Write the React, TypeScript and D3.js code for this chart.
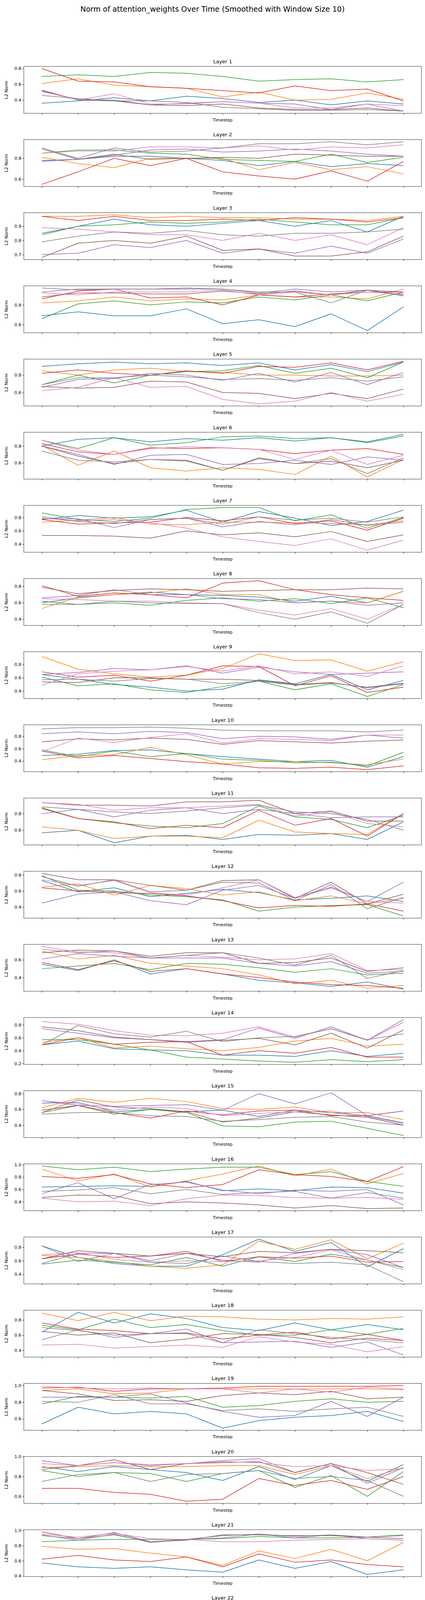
import { useEffect, useRef } from 'react';
import * as d3 from 'd3';

// sampled every 10 timesteps (0..100)
const timesteps = [0, 10, 20, 30, 40, 50, 60, 70, 80, 90, 100];
const xTicks = [0, 10, 20, 30, 40, 50, 60, 70, 80, 90, 100];
const headColors = ['#1f77b4', '#ff7f0e', '#2ca02c', '#d62728', '#9467bd', '#8c564b', '#e377c2', '#7f7f7f'];

// each layer: 8 heads (blue, orange, green, red, purple, brown, pink, gray)
const layer1 = [
  [0.36, 0.39, 0.43, 0.39, 0.45, 0.42, 0.37, 0.40, 0.34, 0.39, 0.35],
  [0.61, 0.67, 0.59, 0.57, 0.55, 0.44, 0.50, 0.40, 0.41, 0.49, 0.41],
  [0.70, 0.72, 0.70, 0.75, 0.74, 0.70, 0.64, 0.66, 0.67, 0.63, 0.66],
  [0.80, 0.64, 0.63, 0.57, 0.55, 0.52, 0.49, 0.58, 0.52, 0.54, 0.39],
  [0.51, 0.41, 0.40, 0.34, 0.36, 0.38, 0.36, 0.35, 0.28, 0.35, 0.26],
  [0.52, 0.40, 0.39, 0.34, 0.33, 0.35, 0.30, 0.28, 0.28, 0.30, 0.26],
  [0.53, 0.40, 0.48, 0.35, 0.35, 0.38, 0.36, 0.30, 0.30, 0.35, 0.33],
  [0.46, 0.42, 0.39, 0.39, 0.37, 0.31, 0.29, 0.27, 0.27, 0.28, 0.26],
];
const layer2 = [
  [0.78, 0.79, 0.82, 0.82, 0.80, 0.78, 0.73, 0.77, 0.72, 0.75, 0.73],
  [0.81, 0.75, 0.71, 0.80, 0.80, 0.80, 0.69, 0.76, 0.69, 0.72, 0.65],
  [0.85, 0.88, 0.88, 0.85, 0.84, 0.79, 0.78, 0.77, 0.84, 0.76, 0.81],
  [0.55, 0.67, 0.80, 0.73, 0.80, 0.67, 0.63, 0.60, 0.68, 0.58, 0.77],
  [0.77, 0.79, 0.83, 0.88, 0.89, 0.86, 0.87, 0.89, 0.87, 0.84, 0.82],
  [0.89, 0.79, 0.84, 0.79, 0.80, 0.81, 0.80, 0.84, 0.83, 0.82, 0.82],
  [0.85, 0.87, 0.87, 0.91, 0.91, 0.90, 0.92, 0.88, 0.91, 0.90, 0.93],
  [0.90, 0.80, 0.90, 0.86, 0.87, 0.90, 0.94, 0.94, 0.96, 0.93, 0.96],
];
const layer3 = [
  [0.85, 0.90, 0.95, 0.91, 0.90, 0.92, 0.94, 0.90, 0.94, 0.86, 0.97],
  [0.97, 0.97, 0.98, 0.96, 0.97, 0.96, 0.96, 0.95, 0.95, 0.94, 0.97],
  [0.84, 0.90, 0.91, 0.93, 0.92, 0.93, 0.95, 0.93, 0.91, 0.91, 0.96],
  [0.97, 0.94, 0.97, 0.94, 0.94, 0.95, 0.94, 0.96, 0.95, 0.93, 0.96],
  [0.70, 0.71, 0.77, 0.75, 0.80, 0.71, 0.74, 0.71, 0.76, 0.71, 0.81],
  [0.68, 0.78, 0.80, 0.78, 0.83, 0.73, 0.74, 0.69, 0.69, 0.72, 0.83],
  [0.89, 0.88, 0.86, 0.84, 0.84, 0.80, 0.85, 0.80, 0.84, 0.77, 0.89],
  [0.79, 0.83, 0.86, 0.85, 0.87, 0.84, 0.83, 0.85, 0.85, 0.86, 0.88],
];
const layer4 = [
  [0.69, 0.73, 0.69, 0.69, 0.76, 0.61, 0.65, 0.58, 0.71, 0.54, 0.78],
  [0.82, 0.84, 0.88, 0.84, 0.86, 0.85, 0.90, 0.88, 0.88, 0.86, 0.96],
  [0.66, 0.81, 0.84, 0.80, 0.83, 0.82, 0.88, 0.85, 0.90, 0.84, 0.93],
  [0.86, 0.94, 0.96, 0.87, 0.88, 0.80, 0.90, 0.88, 0.91, 0.93, 0.93],
  [0.97, 0.95, 0.96, 0.96, 0.96, 0.96, 0.92, 0.96, 0.93, 0.95, 0.93],
  [0.88, 0.92, 0.92, 0.91, 0.91, 0.94, 0.91, 0.94, 0.90, 0.95, 0.90],
  [0.92, 0.90, 0.93, 0.93, 0.93, 0.95, 0.90, 0.93, 0.90, 0.93, 0.91],
  [0.93, 0.96, 0.96, 0.96, 0.97, 0.96, 0.93, 0.93, 0.82, 0.95, 0.89],
];
const layer5 = [
  [0.90, 0.93, 0.95, 0.93, 0.94, 0.91, 0.94, 0.86, 0.92, 0.84, 0.95],
  [0.85, 0.80, 0.86, 0.88, 0.84, 0.83, 0.80, 0.80, 0.79, 0.79, 0.80],
  [0.69, 0.80, 0.71, 0.80, 0.84, 0.85, 0.91, 0.82, 0.88, 0.77, 0.95],
  [0.82, 0.86, 0.82, 0.80, 0.85, 0.82, 0.90, 0.89, 0.94, 0.86, 0.96],
  [0.66, 0.75, 0.76, 0.82, 0.80, 0.74, 0.82, 0.72, 0.83, 0.69, 0.83],
  [0.67, 0.65, 0.66, 0.73, 0.72, 0.60, 0.59, 0.53, 0.59, 0.53, 0.64],
  [0.62, 0.66, 0.77, 0.66, 0.67, 0.52, 0.47, 0.50, 0.60, 0.50, 0.58],
  [0.69, 0.77, 0.77, 0.80, 0.78, 0.75, 0.76, 0.74, 0.77, 0.73, 0.78],
];
const layer6 = [
  [0.80, 0.88, 0.90, 0.85, 0.89, 0.87, 0.90, 0.86, 0.90, 0.85, 0.94],
  [0.81, 0.57, 0.74, 0.54, 0.50, 0.54, 0.52, 0.46, 0.68, 0.43, 0.64],
  [0.87, 0.77, 0.90, 0.81, 0.84, 0.91, 0.92, 0.89, 0.90, 0.84, 0.92],
  [0.83, 0.73, 0.70, 0.78, 0.77, 0.78, 0.76, 0.71, 0.75, 0.77, 0.70],
  [0.80, 0.70, 0.58, 0.69, 0.70, 0.58, 0.59, 0.63, 0.58, 0.67, 0.63],
  [0.80, 0.68, 0.59, 0.64, 0.63, 0.51, 0.65, 0.59, 0.62, 0.54, 0.63],
  [0.87, 0.75, 0.70, 0.77, 0.79, 0.78, 0.76, 0.64, 0.75, 0.58, 0.69],
  [0.74, 0.63, 0.61, 0.64, 0.62, 0.51, 0.66, 0.59, 0.65, 0.47, 0.66],
];
const layer7 = [
  [0.77, 0.83, 0.79, 0.81, 0.91, 0.73, 0.89, 0.79, 0.68, 0.74, 0.91],
  [0.73, 0.76, 0.80, 0.70, 0.69, 0.73, 0.73, 0.72, 0.71, 0.69, 0.75],
  [0.87, 0.77, 0.74, 0.79, 0.92, 0.95, 0.95, 0.75, 0.84, 0.64, 0.80],
  [0.77, 0.70, 0.72, 0.73, 0.80, 0.75, 0.81, 0.71, 0.75, 0.61, 0.79],
  [0.78, 0.78, 0.65, 0.77, 0.79, 0.66, 0.74, 0.69, 0.77, 0.68, 0.73],
  [0.53, 0.53, 0.52, 0.49, 0.60, 0.54, 0.57, 0.51, 0.59, 0.44, 0.54],
  [0.79, 0.75, 0.77, 0.72, 0.64, 0.51, 0.44, 0.38, 0.48, 0.31, 0.46],
  [0.81, 0.74, 0.71, 0.77, 0.79, 0.70, 0.81, 0.76, 0.79, 0.73, 0.81],
];
const layer8 = [
  [0.60, 0.66, 0.70, 0.73, 0.70, 0.69, 0.67, 0.62, 0.68, 0.60, 0.74],
  [0.53, 0.67, 0.70, 0.72, 0.77, 0.70, 0.70, 0.60, 0.62, 0.60, 0.74],
  [0.62, 0.58, 0.60, 0.57, 0.63, 0.66, 0.62, 0.65, 0.59, 0.66, 0.54],
  [0.81, 0.68, 0.72, 0.70, 0.66, 0.84, 0.87, 0.76, 0.70, 0.66, 0.63],
  [0.66, 0.69, 0.76, 0.70, 0.70, 0.65, 0.64, 0.60, 0.62, 0.57, 0.60],
  [0.79, 0.71, 0.75, 0.77, 0.76, 0.74, 0.75, 0.76, 0.76, 0.78, 0.77],
  [0.65, 0.64, 0.62, 0.62, 0.60, 0.59, 0.51, 0.45, 0.53, 0.40, 0.58],
  [0.58, 0.58, 0.62, 0.60, 0.59, 0.59, 0.48, 0.40, 0.49, 0.35, 0.58],
];
const layer9 = [
  [0.65, 0.58, 0.50, 0.46, 0.40, 0.43, 0.57, 0.51, 0.65, 0.42, 0.56],
  [0.92, 0.73, 0.66, 0.61, 0.64, 0.74, 0.96, 0.86, 0.87, 0.70, 0.84],
  [0.61, 0.48, 0.51, 0.42, 0.38, 0.47, 0.55, 0.42, 0.51, 0.32, 0.50],
  [0.69, 0.61, 0.64, 0.55, 0.64, 0.78, 0.77, 0.48, 0.63, 0.38, 0.46],
  [0.65, 0.68, 0.74, 0.72, 0.78, 0.67, 0.76, 0.69, 0.65, 0.67, 0.69],
  [0.54, 0.53, 0.60, 0.60, 0.58, 0.58, 0.56, 0.50, 0.53, 0.45, 0.51],
  [0.49, 0.66, 0.70, 0.72, 0.77, 0.70, 0.78, 0.66, 0.69, 0.62, 0.78],
  [0.57, 0.58, 0.55, 0.59, 0.58, 0.51, 0.55, 0.49, 0.52, 0.46, 0.52],
];
const layer10 = [
  [0.49, 0.51, 0.57, 0.58, 0.52, 0.47, 0.43, 0.39, 0.41, 0.30, 0.47],
  [0.42, 0.49, 0.50, 0.62, 0.50, 0.35, 0.39, 0.39, 0.37, 0.34, 0.43],
  [0.58, 0.47, 0.56, 0.47, 0.52, 0.43, 0.41, 0.37, 0.38, 0.32, 0.54],
  [0.56, 0.45, 0.49, 0.44, 0.39, 0.35, 0.29, 0.28, 0.30, 0.26, 0.32],
  [0.84, 0.87, 0.84, 0.88, 0.86, 0.76, 0.80, 0.79, 0.75, 0.82, 0.77],
  [0.71, 0.76, 0.74, 0.77, 0.75, 0.67, 0.73, 0.71, 0.69, 0.72, 0.74],
  [0.55, 0.77, 0.70, 0.78, 0.84, 0.69, 0.76, 0.75, 0.73, 0.82, 0.82],
  [0.92, 0.94, 0.94, 0.95, 0.93, 0.90, 0.89, 0.89, 0.89, 0.87, 0.90],
];
const layer11 = [
  [0.57, 0.60, 0.45, 0.53, 0.54, 0.49, 0.55, 0.54, 0.56, 0.49, 0.70],
  [0.64, 0.60, 0.50, 0.53, 0.53, 0.51, 0.72, 0.58, 0.56, 0.55, 0.80],
  [0.87, 0.74, 0.69, 0.65, 0.63, 0.68, 0.89, 0.76, 0.73, 0.63, 0.78],
  [0.86, 0.74, 0.70, 0.62, 0.66, 0.63, 0.84, 0.66, 0.74, 0.53, 0.80],
  [0.80, 0.85, 0.76, 0.84, 0.87, 0.80, 0.85, 0.80, 0.75, 0.76, 0.76],
  [0.93, 0.90, 0.90, 0.89, 0.94, 0.94, 0.96, 0.80, 0.83, 0.71, 0.71],
  [0.93, 0.91, 0.84, 0.87, 0.87, 0.89, 0.91, 0.77, 0.82, 0.68, 0.64],
  [0.88, 0.85, 0.82, 0.80, 0.83, 0.87, 0.90, 0.82, 0.80, 0.73, 0.60],
];
const layer12 = [
  [0.73, 0.59, 0.64, 0.53, 0.57, 0.62, 0.58, 0.49, 0.51, 0.54, 0.47],
  [0.65, 0.69, 0.55, 0.67, 0.63, 0.55, 0.59, 0.48, 0.54, 0.44, 0.51],
  [0.79, 0.61, 0.60, 0.55, 0.53, 0.49, 0.35, 0.40, 0.42, 0.43, 0.29],
  [0.64, 0.60, 0.58, 0.57, 0.54, 0.48, 0.39, 0.42, 0.41, 0.44, 0.35],
  [0.45, 0.56, 0.59, 0.48, 0.43, 0.61, 0.67, 0.51, 0.64, 0.47, 0.71],
  [0.82, 0.74, 0.74, 0.67, 0.61, 0.73, 0.74, 0.51, 0.71, 0.44, 0.56],
  [0.74, 0.67, 0.73, 0.58, 0.55, 0.64, 0.74, 0.52, 0.65, 0.47, 0.45],
  [0.78, 0.66, 0.74, 0.59, 0.61, 0.71, 0.70, 0.48, 0.68, 0.38, 0.52],
];
const layer13 = [
  [0.55, 0.48, 0.60, 0.44, 0.50, 0.44, 0.37, 0.34, 0.30, 0.35, 0.27],
  [0.70, 0.61, 0.65, 0.56, 0.53, 0.50, 0.43, 0.33, 0.37, 0.28, 0.31],
  [0.50, 0.53, 0.56, 0.49, 0.56, 0.55, 0.51, 0.46, 0.50, 0.43, 0.45],
  [0.57, 0.49, 0.59, 0.47, 0.50, 0.44, 0.40, 0.35, 0.32, 0.31, 0.28],
  [0.61, 0.67, 0.64, 0.62, 0.62, 0.62, 0.56, 0.53, 0.58, 0.45, 0.47],
  [0.68, 0.71, 0.70, 0.64, 0.68, 0.68, 0.56, 0.57, 0.62, 0.47, 0.51],
  [0.75, 0.69, 0.68, 0.62, 0.65, 0.63, 0.60, 0.61, 0.67, 0.48, 0.49],
  [0.72, 0.68, 0.70, 0.62, 0.65, 0.68, 0.62, 0.54, 0.65, 0.39, 0.48],
];
const layer14 = [
  [0.49, 0.55, 0.43, 0.41, 0.40, 0.33, 0.33, 0.31, 0.40, 0.31, 0.36],
  [0.53, 0.60, 0.44, 0.47, 0.43, 0.40, 0.45, 0.55, 0.59, 0.47, 0.50],
  [0.57, 0.57, 0.50, 0.41, 0.30, 0.27, 0.24, 0.22, 0.26, 0.23, 0.26],
  [0.49, 0.60, 0.50, 0.53, 0.54, 0.33, 0.40, 0.36, 0.45, 0.30, 0.30],
  [0.74, 0.67, 0.60, 0.57, 0.54, 0.57, 0.75, 0.59, 0.77, 0.56, 0.88],
  [0.77, 0.71, 0.61, 0.57, 0.53, 0.56, 0.59, 0.49, 0.67, 0.44, 0.72],
  [0.85, 0.81, 0.71, 0.64, 0.63, 0.67, 0.77, 0.61, 0.74, 0.56, 0.84],
  [0.49, 0.79, 0.66, 0.61, 0.70, 0.54, 0.60, 0.62, 0.74, 0.57, 0.66],
];
const layer15 = [
  [0.68, 0.69, 0.57, 0.60, 0.57, 0.59, 0.51, 0.59, 0.56, 0.52, 0.43],
  [0.62, 0.74, 0.69, 0.74, 0.70, 0.61, 0.60, 0.63, 0.56, 0.56, 0.47],
  [0.56, 0.65, 0.54, 0.60, 0.56, 0.39, 0.38, 0.44, 0.45, 0.36, 0.27],
  [0.59, 0.65, 0.56, 0.49, 0.58, 0.53, 0.58, 0.59, 0.52, 0.52, 0.58],
  [0.71, 0.65, 0.64, 0.65, 0.66, 0.59, 0.80, 0.67, 0.81, 0.52, 0.58],
  [0.56, 0.72, 0.63, 0.61, 0.57, 0.44, 0.49, 0.57, 0.53, 0.50, 0.40],
  [0.71, 0.67, 0.59, 0.63, 0.61, 0.52, 0.55, 0.57, 0.58, 0.51, 0.42],
  [0.54, 0.56, 0.56, 0.52, 0.51, 0.45, 0.47, 0.50, 0.51, 0.44, 0.40],
];
const layer16 = [
  [0.64, 0.65, 0.66, 0.65, 0.73, 0.58, 0.61, 0.58, 0.64, 0.63, 0.54],
  [0.93, 0.74, 0.85, 0.64, 0.74, 0.85, 0.98, 0.82, 0.93, 0.69, 0.86],
  [0.98, 0.92, 0.96, 0.89, 0.93, 0.96, 0.96, 0.84, 0.89, 0.73, 0.65],
  [0.81, 0.78, 0.84, 0.69, 0.63, 0.68, 0.92, 0.84, 0.81, 0.73, 0.97],
  [0.53, 0.71, 0.45, 0.68, 0.72, 0.59, 0.53, 0.59, 0.57, 0.60, 0.35],
  [0.47, 0.51, 0.50, 0.37, 0.40, 0.38, 0.35, 0.30, 0.34, 0.29, 0.30],
  [0.46, 0.40, 0.41, 0.34, 0.45, 0.51, 0.50, 0.47, 0.46, 0.47, 0.44],
  [0.57, 0.59, 0.63, 0.53, 0.60, 0.52, 0.55, 0.57, 0.46, 0.55, 0.46],
];
const layer17 = [
  [0.82, 0.65, 0.56, 0.52, 0.52, 0.69, 0.92, 0.74, 0.87, 0.51, 0.78],
  [0.68, 0.65, 0.59, 0.52, 0.49, 0.54, 0.89, 0.77, 0.91, 0.63, 0.86],
  [0.55, 0.61, 0.58, 0.54, 0.65, 0.52, 0.66, 0.59, 0.70, 0.61, 0.50],
  [0.63, 0.70, 0.65, 0.67, 0.74, 0.59, 0.66, 0.64, 0.67, 0.58, 0.59],
  [0.56, 0.71, 0.71, 0.60, 0.71, 0.61, 0.58, 0.71, 0.77, 0.69, 0.50],
  [0.63, 0.75, 0.71, 0.67, 0.71, 0.66, 0.74, 0.72, 0.77, 0.75, 0.72],
  [0.69, 0.72, 0.62, 0.58, 0.60, 0.59, 0.60, 0.65, 0.76, 0.61, 0.47],
  [0.82, 0.59, 0.71, 0.58, 0.56, 0.67, 0.59, 0.56, 0.58, 0.54, 0.29],
];
const layer18 = [
  [0.64, 0.90, 0.76, 0.88, 0.82, 0.70, 0.66, 0.76, 0.67, 0.74, 0.67],
  [0.89, 0.79, 0.90, 0.79, 0.85, 0.84, 0.81, 0.80, 0.82, 0.81, 0.84],
  [0.73, 0.67, 0.81, 0.70, 0.74, 0.66, 0.60, 0.60, 0.67, 0.61, 0.69],
  [0.76, 0.68, 0.66, 0.62, 0.63, 0.55, 0.60, 0.64, 0.55, 0.61, 0.53],
  [0.54, 0.67, 0.57, 0.62, 0.68, 0.50, 0.51, 0.52, 0.44, 0.51, 0.34],
  [0.65, 0.60, 0.63, 0.50, 0.55, 0.62, 0.61, 0.57, 0.50, 0.56, 0.53],
  [0.47, 0.48, 0.43, 0.45, 0.47, 0.44, 0.58, 0.51, 0.48, 0.38, 0.45],
  [0.70, 0.66, 0.60, 0.62, 0.62, 0.50, 0.67, 0.62, 0.57, 0.54, 0.50],
];
const layer19 = [
  [0.54, 0.74, 0.66, 0.69, 0.66, 0.49, 0.58, 0.62, 0.64, 0.69, 0.57],
  [0.94, 0.96, 0.90, 0.91, 0.96, 0.96, 0.96, 0.96, 0.96, 0.96, 0.95],
  [0.78, 0.87, 0.86, 0.85, 0.87, 0.74, 0.76, 0.81, 0.84, 0.80, 0.81],
  [0.97, 0.98, 0.93, 0.96, 0.96, 0.97, 0.99, 0.99, 0.99, 0.99, 1.00],
  [0.86, 0.86, 0.86, 0.90, 0.79, 0.69, 0.62, 0.64, 0.81, 0.63, 0.86],
  [0.94, 0.90, 0.82, 0.83, 0.81, 0.88, 0.91, 0.89, 0.93, 0.84, 0.86],
  [0.99, 0.97, 0.96, 0.97, 0.96, 0.96, 0.91, 0.96, 0.92, 0.98, 0.96],
  [0.81, 0.80, 0.89, 0.78, 0.78, 0.70, 0.72, 0.69, 0.72, 0.74, 0.63],
];
const layer20 = [
  [0.90, 0.85, 0.90, 0.87, 0.84, 0.76, 0.90, 0.77, 0.91, 0.75, 0.92],
  [0.89, 0.90, 0.91, 0.90, 0.90, 0.91, 0.91, 0.82, 0.91, 0.78, 0.89],
  [0.86, 0.80, 0.84, 0.83, 0.75, 0.83, 0.86, 0.69, 0.81, 0.60, 0.85],
  [0.68, 0.68, 0.64, 0.62, 0.55, 0.57, 0.78, 0.71, 0.76, 0.67, 0.80],
  [0.96, 0.91, 0.94, 0.91, 0.93, 0.96, 0.98, 0.84, 0.93, 0.73, 0.89],
  [0.87, 0.91, 0.97, 0.87, 0.93, 0.94, 0.95, 0.84, 0.93, 0.84, 0.72],
  [0.93, 0.91, 0.94, 0.92, 0.93, 0.95, 0.94, 0.90, 0.91, 0.86, 0.88],
  [0.75, 0.82, 0.84, 0.75, 0.82, 0.83, 0.86, 0.78, 0.80, 0.76, 0.60],
];
const layer21 = [
  [0.57, 0.52, 0.50, 0.52, 0.48, 0.45, 0.61, 0.50, 0.59, 0.42, 0.48],
  [0.79, 0.75, 0.76, 0.70, 0.65, 0.54, 0.73, 0.63, 0.75, 0.60, 0.84],
  [0.85, 0.87, 0.88, 0.88, 0.88, 0.89, 0.92, 0.90, 0.90, 0.91, 0.94],
  [0.62, 0.67, 0.61, 0.59, 0.65, 0.52, 0.69, 0.58, 0.61, 0.55, 0.52],
  [0.94, 0.87, 0.95, 0.84, 0.88, 0.90, 0.95, 0.90, 0.94, 0.89, 0.87],
  [0.98, 0.89, 0.97, 0.85, 0.87, 0.94, 0.94, 0.93, 0.93, 0.91, 0.89],
  [0.95, 0.91, 0.96, 0.89, 0.88, 0.85, 0.85, 0.87, 0.88, 0.89, 0.87],
  [0.93, 0.89, 0.94, 0.85, 0.88, 0.93, 0.95, 0.92, 0.94, 0.91, 0.93],
];
const layer22 = [
  [0.73, 0.69, 0.76, 0.67, 0.77, 0.65, 0.54, 0.63, 0.58, 0.60, 0.62],
  [0.65, 0.75, 0.67, 0.70, 0.65, 0.80, 0.69, 0.60, 0.74, 0.50, 0.72],
  [0.64, 0.59, 0.59, 0.52, 0.55, 0.65, 0.63, 0.62, 0.70, 0.46, 0.60],
  [0.57, 0.54, 0.57, 0.50, 0.60, 0.65, 0.69, 0.67, 0.70, 0.49, 0.58],
  [0.84, 0.84, 0.80, 0.83, 0.83, 0.83, 0.77, 0.80, 0.69, 0.77, 0.70],
  [0.86, 0.78, 0.80, 0.76, 0.78, 0.76, 0.65, 0.66, 0.60, 0.70, 0.65],
  [0.84, 0.79, 0.81, 0.73, 0.76, 0.80, 0.69, 0.74, 0.70, 0.80, 0.75],
  [0.80, 0.72, 0.71, 0.73, 0.72, 0.75, 0.78, 0.78, 0.70, 0.72, 0.70],
];
const layer23 = [
  [0.87, 0.90, 0.90, 0.88, 0.86, 0.84, 0.86, 0.92, 0.95, 0.87, 0.94],
  [0.83, 0.79, 0.89, 0.75, 0.72, 0.78, 0.78, 0.82, 0.91, 0.79, 0.90],
  [0.77, 0.87, 0.83, 0.64, 0.61, 0.70, 0.76, 0.78, 0.87, 0.68, 0.84],
  [0.81, 0.80, 0.86, 0.83, 0.86, 0.85, 0.84, 0.78, 0.81, 0.72, 0.80],
  [0.59, 0.75, 0.76, 0.71, 0.73, 0.70, 0.81, 0.75, 0.80, 0.75, 0.66],
  [0.64, 0.80, 0.86, 0.76, 0.75, 0.62, 0.83, 0.82, 0.87, 0.82, 0.67],
  [0.86, 0.85, 0.89, 0.81, 0.76, 0.67, 0.76, 0.76, 0.88, 0.77, 0.82],
  [0.83, 0.86, 0.91, 0.81, 0.82, 0.89, 0.89, 0.79, 0.77, 0.75, 0.61],
];
const layer24 = [
  [0.66, 0.60, 0.80, 0.73, 0.74, 0.76, 0.82, 0.85, 0.85, 0.82, 0.87],
  [0.92, 0.89, 0.94, 0.89, 0.91, 0.91, 0.95, 0.94, 0.96, 0.93, 0.97],
  [0.77, 0.84, 0.87, 0.87, 0.89, 0.89, 0.89, 0.89, 0.90, 0.89, 0.89],
  [0.87, 0.89, 0.91, 0.88, 0.87, 0.89, 0.85, 0.90, 0.89, 0.91, 0.89],
  [0.93, 0.88, 0.91, 0.88, 0.89, 0.87, 0.86, 0.83, 0.91, 0.83, 0.91],
  [0.91, 0.91, 0.91, 0.91, 0.88, 0.88, 0.91, 0.94, 0.95, 0.92, 0.94],
  [0.84, 0.87, 0.89, 0.81, 0.87, 0.77, 0.81, 0.89, 0.91, 0.88, 0.91],
  [0.91, 0.91, 0.92, 0.89, 0.89, 0.87, 0.94, 0.91, 0.95, 0.92, 0.94],
];
const layer25 = [
  [0.97, 0.96, 0.94, 0.93, 0.96, 0.97, 0.98, 0.98, 0.98, 0.97, 0.96],
  [0.89, 0.92, 0.87, 0.88, 0.90, 0.86, 0.90, 0.92, 0.92, 0.92, 0.91],
  [0.87, 0.91, 0.91, 0.90, 0.92, 0.88, 0.91, 0.93, 0.94, 0.90, 0.91],
  [0.82, 0.81, 0.84, 0.77, 0.91, 0.83, 0.93, 0.93, 0.88, 0.86, 0.86],
  [0.91, 0.91, 0.95, 0.89, 0.93, 0.93, 0.99, 0.97, 0.97, 0.97, 1.00],
  [0.93, 0.98, 0.98, 0.96, 0.98, 0.97, 0.99, 0.99, 0.99, 0.98, 0.99],
  [0.93, 0.95, 0.92, 0.94, 0.96, 0.90, 0.96, 0.97, 0.97, 0.97, 0.98],
  [0.91, 0.95, 0.96, 0.92, 0.98, 0.92, 0.99, 0.93, 0.93, 0.97, 0.93],
];
const layer26 = [
  [0.95, 0.87, 0.96, 0.81, 0.68, 0.85, 0.96, 0.89, 0.95, 0.84, 0.94],
  [0.71, 0.78, 0.92, 0.81, 0.88, 0.90, 0.87, 0.84, 0.82, 0.91, 0.64],
  [0.94, 0.88, 0.92, 0.81, 0.88, 0.93, 0.93, 0.93, 0.94, 0.90, 0.94],
  [0.97, 0.96, 0.95, 0.93, 0.93, 0.90, 0.94, 0.90, 0.93, 0.88, 0.83],
  [0.95, 0.95, 0.96, 0.93, 0.93, 0.95, 0.98, 0.97, 0.97, 0.95, 0.97],
  [0.85, 0.83, 0.89, 0.78, 0.81, 0.83, 0.95, 0.87, 0.86, 0.82, 0.95],
  [0.90, 0.92, 0.92, 0.89, 0.89, 0.90, 0.97, 0.95, 0.96, 0.91, 0.97],
  [0.79, 0.93, 0.84, 0.90, 0.92, 0.82, 0.95, 0.95, 0.97, 0.93, 0.97],
];
const layer27 = [
  [0.63, 0.58, 0.60, 0.62, 0.64, 0.62, 0.73, 0.66, 0.60, 0.57, 0.51],
  [0.68, 0.68, 0.65, 0.65, 0.65, 0.65, 0.68, 0.66, 0.71, 0.65, 0.68],
  [0.80, 0.82, 0.69, 0.80, 0.80, 0.80, 0.90, 0.82, 0.82, 0.73, 0.80],
  [0.65, 0.57, 0.52, 0.52, 0.50, 0.51, 0.61, 0.63, 0.52, 0.57, 0.49],
  [0.92, 0.89, 0.93, 0.86, 0.89, 0.88, 0.91, 0.88, 0.90, 0.89, 0.88],
  [0.84, 0.89, 0.90, 0.85, 0.90, 0.91, 0.92, 0.88, 0.89, 0.84, 0.85],
  [0.80, 0.85, 0.91, 0.78, 0.88, 0.82, 0.87, 0.88, 0.88, 0.88, 0.62],
  [0.84, 0.95, 0.93, 0.88, 0.93, 0.92, 0.97, 0.95, 0.91, 0.93, 0.93],
];
const layer28 = [
  [0.92, 0.94, 0.93, 0.95, 0.95, 0.94, 0.98, 0.96, 0.97, 0.96, 0.98],
  [0.81, 0.87, 0.85, 0.86, 0.90, 0.83, 0.85, 0.84, 0.84, 0.86, 0.77],
  [0.86, 0.90, 0.89, 0.91, 0.92, 0.88, 0.88, 0.88, 0.88, 0.90, 0.92],
  [0.92, 0.95, 0.96, 0.95, 0.96, 0.95, 0.96, 0.97, 0.97, 0.96, 0.95],
  [0.83, 0.88, 0.86, 0.83, 0.85, 0.88, 0.98, 0.89, 0.83, 0.77, 0.94],
  [0.73, 0.75, 0.65, 0.71, 0.70, 0.72, 0.94, 0.80, 0.76, 0.67, 0.88],
  [0.78, 0.84, 0.77, 0.81, 0.79, 0.81, 0.97, 0.88, 0.83, 0.74, 0.91],
  [0.63, 0.66, 0.56, 0.61, 0.62, 0.71, 0.94, 0.70, 0.76, 0.51, 0.85],
];
const layer29 = [
  [0.51, 0.50, 0.44, 0.45, 0.56, 0.52, 0.68, 0.69, 0.56, 0.62, 0.61],
  [0.96, 0.88, 0.94, 0.91, 0.90, 0.96, 0.97, 0.96, 0.97, 0.96, 0.98],
  [0.97, 0.97, 0.96, 0.96, 0.96, 0.96, 0.96, 0.96, 0.97, 0.95, 0.99],
  [0.74, 0.68, 0.76, 0.70, 0.75, 0.76, 0.67, 0.76, 0.69, 0.62, 0.70],
  [0.94, 0.95, 0.96, 0.96, 0.95, 0.96, 0.94, 0.94, 0.88, 0.93, 0.90],
  [0.87, 0.89, 0.93, 0.89, 0.90, 0.86, 0.88, 0.85, 0.88, 0.83, 0.82],
  [0.79, 0.89, 0.86, 0.92, 0.91, 0.85, 0.89, 0.82, 0.86, 0.83, 0.91],
  [0.85, 0.93, 0.94, 0.93, 0.90, 0.91, 0.94, 0.85, 0.85, 0.83, 0.89],
];
const layer30 = [
  [0.95, 0.94, 0.93, 0.93, 0.95, 0.90, 0.93, 0.88, 0.95, 0.89, 0.95],
  [0.94, 0.935, 0.96, 0.94, 0.95, 0.95, 0.94, 0.93, 0.94, 0.92, 0.95],
  [0.83, 0.86, 0.90, 0.83, 0.88, 0.83, 0.93, 0.85, 0.93, 0.85, 0.93],
  [0.88, 0.88, 0.92, 0.87, 0.92, 0.85, 0.80, 0.86, 0.92, 0.79, 0.89],
  [0.95, 0.95, 0.96, 0.96, 0.96, 0.96, 0.95, 0.96, 0.96, 0.93, 0.93],
  [0.95, 0.94, 0.97, 0.96, 0.96, 0.97, 0.98, 0.97, 0.97, 0.96, 0.98],
  [0.96, 0.94, 0.96, 0.95, 0.96, 0.96, 0.98, 0.96, 0.96, 0.92, 0.97],
  [0.95, 0.94, 0.98, 0.96, 0.97, 0.96, 0.97, 0.96, 0.95, 0.93, 0.97],
];
const layer31 = [
  [0.47, 0.49, 0.53, 0.47, 0.49, 0.46, 0.48, 0.42, 0.43, 0.36, 0.39],
  [0.49, 0.44, 0.49, 0.39, 0.46, 0.49, 0.60, 0.52, 0.57, 0.42, 0.47],
  [0.47, 0.49, 0.47, 0.43, 0.54, 0.49, 0.51, 0.57, 0.54, 0.53, 0.41],
  [0.75, 0.74, 0.76, 0.72, 0.73, 0.76, 0.91, 0.79, 0.86, 0.77, 0.91],
  [0.91, 0.89, 0.90, 0.92, 0.91, 0.92, 0.92, 0.89, 0.90, 0.88, 0.93],
  [0.88, 0.85, 0.82, 0.86, 0.91, 0.87, 0.90, 0.85, 0.85, 0.81, 0.91],
  [0.65, 0.61, 0.65, 0.55, 0.62, 0.57, 0.65, 0.62, 0.65, 0.50, 0.62],
  [0.94, 0.94, 0.91, 0.93, 0.92, 0.90, 0.90, 0.85, 0.85, 0.84, 0.90],
];
const layer32 = [
  [0.56, 0.62, 0.65, 0.58, 0.65, 0.64, 0.61, 0.57, 0.62, 0.60, 0.57],
  [0.73, 0.75, 0.73, 0.73, 0.74, 0.72, 0.74, 0.69, 0.65, 0.70, 0.71],
  [0.53, 0.59, 0.53, 0.61, 0.61, 0.55, 0.59, 0.56, 0.53, 0.58, 0.53],
  [0.71, 0.80, 0.71, 0.77, 0.84, 0.79, 0.79, 0.75, 0.77, 0.74, 0.80],
  [0.82, 0.77, 0.85, 0.77, 0.88, 0.89, 0.88, 0.87, 0.86, 0.86, 0.83],
  [0.67, 0.74, 0.73, 0.75, 0.71, 0.70, 0.65, 0.68, 0.68, 0.71, 0.67],
  [0.67, 0.63, 0.65, 0.62, 0.65, 0.67, 0.69, 0.66, 0.63, 0.64, 0.65],
  [0.50, 0.50, 0.58, 0.41, 0.61, 0.68, 0.76, 0.69, 0.65, 0.69, 0.79],
];

const layers = [
  layer1, layer2, layer3, layer4, layer5, layer6, layer7, layer8,
  layer9, layer10, layer11, layer12, layer13, layer14, layer15, layer16,
  layer17, layer18, layer19, layer20, layer21, layer22, layer23, layer24,
  layer25, layer26, layer27, layer28, layer29, layer30, layer31, layer32,
];

const WIDTH = 1089;
const HEIGHT = 6149;

export default function App() {
  const svgRef = useRef<SVGSVGElement>(null);

  useEffect(() => {
    if (!svgRef.current) return;
    d3.select(svgRef.current).selectAll('*').remove();

    const left = 61;
    const right = 1080;
    const firstTop = 170;
    const step = 187.3;
    const axH = 120;
    const font = 'DejaVu Sans, sans-serif';

    const svg = d3.select(svgRef.current).style('font-family', font);

    svg.append('rect').attr('width', WIDTH).attr('height', HEIGHT).attr('fill', 'white');

    svg.append('text')
      .attr('x', WIDTH / 2)
      .attr('y', 30)
      .attr('text-anchor', 'middle')
      .style('font-size', '19px')
      .text('Norm of attention_weights Over Time (Smoothed with Window Size 10)');

    const x = d3.scaleLinear().domain([-5, 105]).range([left, right]);

    layers.forEach((heads, li) => {
      const top = firstTop + li * step;
      const bottom = top + axH;
      const all = heads.flat();
      const lo = d3.min(all) as number;
      const hi = d3.max(all) as number;
      const pad = (hi - lo) * 0.05;
      const y = d3.scaleLinear().domain([lo - pad, hi + pad]).range([bottom, top]);
      const tickStep = hi - lo < 0.35 ? 0.1 : 0.2;
      const yTicks = d3.range(Math.ceil((lo - pad) / tickStep - 1e-6), Math.floor((hi + pad) / tickStep + 1e-6) + 1)
        .map(k => +(k * tickStep).toFixed(2));

      const g = svg.append('g');

      g.append('text')
        .attr('x', (left + right) / 2)
        .attr('y', top - 8)
        .attr('text-anchor', 'middle')
        .style('font-size', '13px')
        .text(`Layer ${li + 1}`);

      const line = d3.line<number>()
        .x((_, i) => x(timesteps[i]))
        .y(d => y(d));

      heads.forEach((vals, hi2) => {
        g.append('path')
          .datum(vals)
          .attr('d', line)
          .attr('fill', 'none')
          .attr('stroke', headColors[hi2])
          .attr('stroke-width', 1.5)
          .attr('stroke-linejoin', 'round');
      });

      const yAxis = g.append('g')
        .attr('transform', `translate(${left},0)`)
        .call(d3.axisLeft(y).tickValues(yTicks).tickFormat(d3.format('.1f')).tickSizeOuter(0).tickSize(3.5));
      yAxis.select('.domain').remove();
      yAxis.selectAll('text').style('font-size', '11px').style('font-family', font);

      const isLast = li === layers.length - 1;
      const xAxis = g.append('g')
        .attr('transform', `translate(0,${bottom})`)
        .call(d3.axisBottom(x).tickValues(xTicks).tickSizeOuter(0).tickSize(3.5)
          .tickFormat(isLast ? d3.format('d') : () => ''));
      xAxis.select('.domain').remove();
      xAxis.selectAll('text').style('font-size', '11px').style('font-family', font);

      g.append('rect')
        .attr('x', left)
        .attr('y', top)
        .attr('width', right - left)
        .attr('height', axH)
        .attr('fill', 'none')
        .attr('stroke', 'black')
        .attr('stroke-width', 0.8);

      g.append('text')
        .attr('x', (left + right) / 2)
        .attr('y', bottom + (isLast ? 34 : 21))
        .attr('text-anchor', 'middle')
        .style('font-size', '11px')
        .text('Timestep');

      g.append('text')
        .attr('transform', `translate(20,${top + axH / 2}) rotate(-90)`)
        .attr('text-anchor', 'middle')
        .style('font-size', '11px')
        .text('L2 Norm');
    });
  }, []);

  return (
    <div style={{ margin: -8 }}>
      <svg ref={svgRef} width={WIDTH} height={HEIGHT} style={{ display: 'block' }}></svg>
    </div>
  );
}
